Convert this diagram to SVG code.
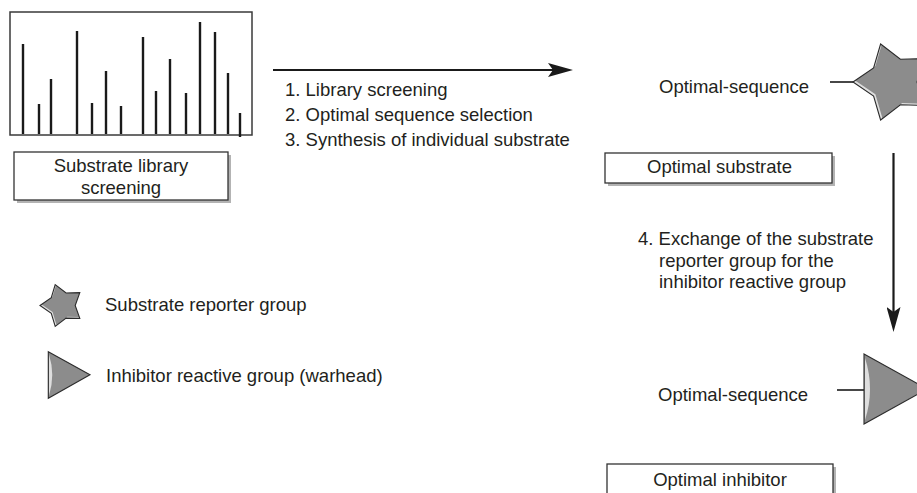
<svg xmlns="http://www.w3.org/2000/svg" width="917" height="493" viewBox="0 0 917 493">
  <defs>
    <style>
      .t { font-family: "Liberation Sans", Arial, sans-serif; font-size: 18.5px; fill: #231f20; }
      .mid { text-anchor: middle; }
      .box { fill: #ffffff; stroke: #333333; stroke-width: 1.3; }
      .shadow { fill: #b3b3b3; }
      .bar { stroke: #1a1a1a; stroke-width: 2.4; }
      .conn { stroke: #1a1a1a; stroke-width: 2.2; fill: none; }
      .stub { stroke: #1a1a1a; stroke-width: 1.6; fill: none; }
      .hl { fill: #dedede; }
      .gray { fill: #8c8c8c; }
      .outline { fill: none; stroke: #2b2b2b; stroke-width: 1.1; stroke-linejoin: miter; }
    </style>
    <marker id="ah" viewBox="0 0 25 14" refX="5" refY="7" markerWidth="25" markerHeight="14" markerUnits="userSpaceOnUse" orient="auto">
      <path d="M0,0 L25,7 L0,14 L5,7 Z" fill="#1a1a1a"/>
    </marker>
    <path id="bigStar" d="M853,82 L873.6,67.9 L880.6,44 L900.4,59.2 L925.4,58.5 L917,82 L925.4,105.5 L900.4,104.8 L880.6,120 L873.6,96.1 Z"/>
    <path id="smallStar" d="M40,305.5 L51.3,297.7 L55.2,284.6 L66.1,293 L79.8,292.6 L75.2,305.5 L79.8,318.4 L66.1,318.1 L55.2,326.4 L51.3,313.3 Z"/>
    <clipPath id="cpBig"><use href="#bigStar"/></clipPath>
    <clipPath id="cpSmall"><use href="#smallStar"/></clipPath>
  </defs>

  <rect width="917" height="493" fill="#ffffff"/>

  <!-- Spectrum / library screening plot -->
  <g id="spectrum">
    <rect x="10" y="12" width="242" height="123" fill="#ffffff" stroke="#3a3a3a" stroke-width="1.5"/>
    <line class="bar" x1="23" y1="44" x2="23" y2="134"/>
    <line class="bar" x1="39" y1="104" x2="39" y2="134"/>
    <line class="bar" x1="51" y1="79" x2="51" y2="134"/>
    <line class="bar" x1="77" y1="31" x2="77" y2="134"/>
    <line class="bar" x1="92" y1="103" x2="92" y2="134"/>
    <line class="bar" x1="106" y1="71" x2="106" y2="134"/>
    <line class="bar" x1="121" y1="106" x2="121" y2="134"/>
    <line class="bar" x1="143" y1="37" x2="143" y2="134"/>
    <line class="bar" x1="156" y1="91" x2="156" y2="134"/>
    <line class="bar" x1="170" y1="59" x2="170" y2="134"/>
    <line class="bar" x1="186" y1="93" x2="186" y2="134"/>
    <line class="bar" x1="200" y1="22" x2="200" y2="134"/>
    <line class="bar" x1="215" y1="32" x2="215" y2="134"/>
    <line class="bar" x1="228" y1="73" x2="228" y2="134"/>
    <line class="bar" x1="240" y1="113" x2="240" y2="137"/>
  </g>

  <g id="label-library">
    <rect class="shadow" x="17" y="155" width="214" height="48"/>
    <rect class="box" x="14" y="152" width="214" height="48"/>
    <text class="t mid" x="121" y="171.5">Substrate library</text>
    <text class="t mid" x="121" y="194">screening</text>
  </g>

  <g id="steps-1-3">
    <text class="t" x="285" y="96">1. Library screening</text>
    <text class="t" x="285" y="121">2. Optimal sequence selection</text>
    <text class="t" x="285" y="146">3. Synthesis of individual substrate</text>
  </g>

  <g id="optimal-substrate-molecule">
    <text class="t" x="659" y="92.5">Optimal-sequence</text>
    <line class="stub" x1="830" y1="82" x2="854" y2="82"/>
    <use href="#bigStar" class="hl"/>
    <g clip-path="url(#cpBig)">
      <use href="#bigStar" class="gray" transform="translate(1.8,-1.8)"/>
    </g>
    <use href="#bigStar" class="outline"/>
  </g>

  <g id="label-optimal-substrate">
    <rect class="shadow" x="608" y="156" width="227" height="30"/>
    <rect class="box" x="605" y="153" width="227" height="30"/>
    <text class="t mid" x="719.5" y="173">Optimal substrate</text>
  </g>

  <g id="step-4">
    <text class="t" x="638" y="245">4. Exchange of the substrate</text>
    <text class="t" x="659" y="266.5">reporter group for the</text>
    <text class="t" x="659" y="288">inhibitor reactive group</text>
  </g>

  <g id="optimal-inhibitor-molecule">
    <text class="t" x="658" y="400.5">Optimal-sequence</text>
    <line class="stub" x1="837" y1="390" x2="864" y2="390"/>
    <path class="gray" d="M864,354 L927,389 L864,424 Z"/>
    <path class="hl" d="M865,358 Q875,389 865,420 Z"/>
    <path class="outline" d="M864,354 L927,389 L864,424 Z"/>
  </g>

  <g id="label-optimal-inhibitor">
    <rect class="shadow" x="610" y="467" width="226" height="30"/>
    <rect class="box" x="607" y="464" width="226" height="32"/>
    <text class="t mid" x="720" y="486">Optimal inhibitor</text>
  </g>

  <g id="legend-star">
    <use href="#smallStar" class="hl"/>
    <g clip-path="url(#cpSmall)">
      <use href="#smallStar" class="gray" transform="translate(1.3,-1.3)"/>
    </g>
    <use href="#smallStar" class="outline"/>
    <text class="t" x="105" y="311">Substrate reporter group</text>
  </g>

  <g id="legend-warhead">
    <path class="gray" d="M48.3,351.7 L90,374.8 L48.3,398.3 Z"/>
    <path class="hl" d="M49,354.5 Q55.5,375 49,395.5 Z"/>
    <path class="outline" d="M48.3,351.7 L90,374.8 L48.3,398.3 Z"/>
    <text class="t" x="106" y="381.5">Inhibitor reactive group (warhead)</text>
  </g>

  <g id="connectors">
    <line class="conn" x1="273" y1="70" x2="553" y2="70" marker-end="url(#ah)"/>
    <line class="conn" x1="893.5" y1="153" x2="893.5" y2="312" marker-end="url(#ah)"/>
  </g>
</svg>
